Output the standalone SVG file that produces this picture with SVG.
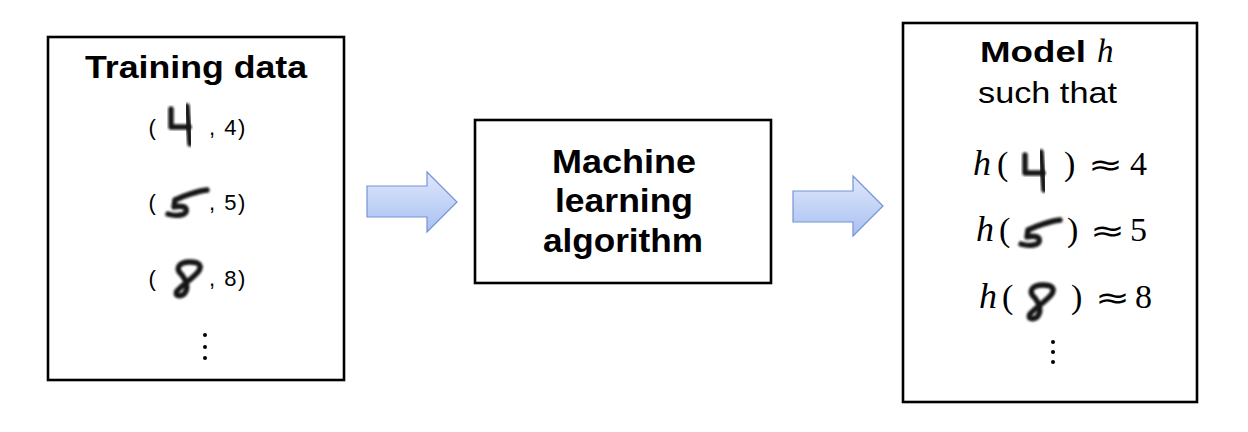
<svg xmlns="http://www.w3.org/2000/svg" xmlns:xlink="http://www.w3.org/1999/xlink" width="1248" height="432" viewBox="0 0 1248 432">
  <style>
    .box { fill: #ffffff; stroke: #000000; stroke-width: 2.6; }
    .bold { font-family: "Liberation Sans", Arial, sans-serif; font-weight: bold; fill: #000; }
    .sans { font-family: "Liberation Sans", Arial, sans-serif; fill: #000; }
    .math { font-family: "Liberation Serif", "Times New Roman", serif; fill: #000; font-size: 34px; }
    .it { font-style: italic; font-size: 36px; }
    .approx { font-family: "DejaVu Sans", sans-serif; fill: #000; font-size: 30px; }
    .ink { fill: none; stroke: #141414; stroke-width: 5.4; stroke-linecap: round; stroke-linejoin: round; filter: url(#soft); }
    .arrow { fill: url(#arrowFill); stroke: #7693d6; stroke-width: 1.2; stroke-linejoin: miter; }
    .dot { fill: #000; }
  </style>
  <defs>
    <filter id="soft" x="-20%" y="-20%" width="140%" height="140%">
      <feGaussianBlur stdDeviation="0.8"/>
    </filter>
    <linearGradient id="arrowFill" x1="0" y1="0" x2="0" y2="1">
      <stop offset="0" stop-color="#dfe8fc"/>
      <stop offset="1" stop-color="#a9c0f1"/>
    </linearGradient>
    <g id="d4">
      <path class="ink" d="M3,5 L3,23 L21,23"/>
      <path class="ink" d="M19,2 L22,40"/>
    </g>
    <g id="d5">
      <path class="ink" d="M42,3 C33,4 18,9 10,13 L9,20 C17,18 23,20 21,25 C19,29 9,29 3,27"/>
    </g>
    <g id="d8">
      <path class="ink" d="M10,16 C3,10 6,3 18,3 C29,3 30,8 26,13 C20,20 9,27 5,32 C2,37 8,38 12,35 C16,31 16,24 10,16 Z"/>
    </g>
  </defs>

  <rect width="1248" height="432" fill="#ffffff"/>

  <g id="training-data">
    <rect class="box" x="48" y="37" width="296" height="343"/>
    <text class="bold" x="196" y="78" font-size="32" text-anchor="middle" textLength="222" lengthAdjust="spacingAndGlyphs">Training data</text>
    <text class="sans" x="148.5" y="135" font-size="22">(</text>
    <use xlink:href="#d4" href="#d4" transform="translate(168,104)"/>
    <text class="sans" x="209" y="135" font-size="22" letter-spacing="1.5">, 4)</text>
    <text class="sans" x="148.5" y="210" font-size="22">(</text>
    <use xlink:href="#d5" href="#d5" transform="translate(165,187)"/>
    <text class="sans" x="209" y="210" font-size="22" letter-spacing="1.5">, 5)</text>
    <text class="sans" x="148.5" y="286" font-size="22">(</text>
    <use xlink:href="#d8" href="#d8" transform="translate(172,259)"/>
    <text class="sans" x="209" y="286" font-size="22" letter-spacing="1.5">, 8)</text>
    <circle class="dot" cx="205" cy="335" r="2"/>
    <circle class="dot" cx="205" cy="347" r="2"/>
    <circle class="dot" cx="205" cy="358" r="2"/>
  </g>

  <g id="ml-algorithm">
    <rect class="box" x="475" y="120" width="296" height="163"/>
    <text class="bold" x="624" y="173" font-size="33" text-anchor="middle" textLength="144" lengthAdjust="spacingAndGlyphs">Machine</text>
    <text class="bold" x="624" y="212" font-size="33" text-anchor="middle" textLength="138" lengthAdjust="spacingAndGlyphs">learning</text>
    <text class="bold" x="623" y="252" font-size="33" text-anchor="middle" textLength="160" lengthAdjust="spacingAndGlyphs">algorithm</text>
  </g>

  <g id="model">
    <rect class="box" x="903" y="23" width="294" height="379"/>
    <text class="bold" x="980" y="62" font-size="30" textLength="106" lengthAdjust="spacingAndGlyphs">Model</text>
    <text class="math it" x="1097" y="62" style="font-size:33px">h</text>
    <text class="sans" x="978" y="103" font-size="30" textLength="139" lengthAdjust="spacingAndGlyphs">such that</text>

    <text class="math it" x="973" y="175">h</text>
    <text class="math" x="997" y="175">(</text>
    <use xlink:href="#d4" href="#d4" transform="translate(1022,150)"/>
    <text class="math" x="1064" y="175">)</text>
    <text class="approx" x="1088" y="175" textLength="35" lengthAdjust="spacingAndGlyphs">≈</text>
    <text class="math" x="1130" y="175">4</text>

    <text class="math it" x="976" y="241">h</text>
    <text class="math" x="999" y="241">(</text>
    <use xlink:href="#d5" href="#d5" transform="translate(1018,217)"/>
    <text class="math" x="1067" y="241">)</text>
    <text class="approx" x="1090" y="241" textLength="35" lengthAdjust="spacingAndGlyphs">≈</text>
    <text class="math" x="1130" y="241">5</text>

    <text class="math it" x="979" y="308">h</text>
    <text class="math" x="1002" y="308">(</text>
    <use xlink:href="#d8" href="#d8" transform="translate(1025,282)"/>
    <text class="math" x="1071" y="308">)</text>
    <text class="approx" x="1095" y="308" textLength="35" lengthAdjust="spacingAndGlyphs">≈</text>
    <text class="math" x="1135" y="308">8</text>

    <circle class="dot" cx="1053" cy="342" r="2"/>
    <circle class="dot" cx="1053" cy="352" r="2"/>
    <circle class="dot" cx="1053" cy="362" r="2"/>
  </g>

  <g id="connectors">
    <path class="arrow" d="M367,186 L427,186 L427,172 L457,202 L427,232 L427,217 L367,217 Z"/>
    <path class="arrow" d="M793,191 L853,191 L853,176 L883,206 L853,236 L853,222 L793,222 Z"/>
  </g>
</svg>
